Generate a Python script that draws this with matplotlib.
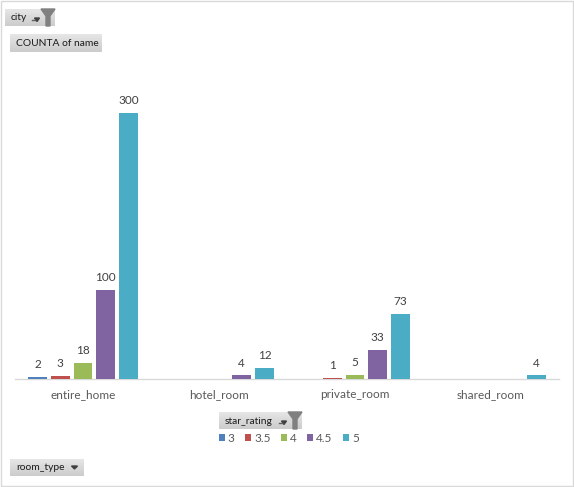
import numpy as np
import matplotlib
matplotlib.use('Agg')
import matplotlib.pyplot as plt
from matplotlib.patches import Rectangle, Polygon

plt.rcParams['font.family'] = ['Lato', 'DejaVu Sans']

room_types = ['entire_home', 'hotel_room', 'private_room', 'shared_room']
ratings = ['3', '3.5', '4', '4.5', '5']
r3 = [2, np.nan, np.nan, np.nan]
r35 = [3, np.nan, 1, np.nan]
r4 = [18, np.nan, 5, np.nan]
r45 = [100, 4, 33, np.nan]
r5 = [300, 12, 73, 4]
series = [r3, r35, r4, r45, r5]
colors = ['#4F81BD', '#C0504D', '#9BBB59', '#8064A2', '#4BACC6']

W, H = 574, 487
fig = plt.figure(figsize=(W / 100, H / 100), dpi=100)


def px(x0, y0, x1, y1):
    return [x0 / W, 1 - y1 / H, (x1 - x0) / W, (y1 - y0) / H]


ax = fig.add_axes(px(15, 68.5, 559, 379))
x = np.arange(len(room_types))
slot = 0.167
bw = 0.136
for i, (name, vals) in enumerate(zip(ratings, series)):
    pos = x + (i - 2) * slot
    bars = ax.bar(pos, vals, bw, color=colors[i], label=name, zorder=3)
    for b, v in zip(bars, vals):
        if not np.isnan(v):
            ax.annotate(f'{int(v)}', (b.get_x() + b.get_width() / 2, v),
                        xytext=(0, 5), textcoords='offset points',
                        ha='center', va='bottom', fontsize=8.5, color='#404040')

ax.set_xlim(-0.5, 3.5)
ax.set_ylim(0, 350)
ax.set_xticks(x)
ax.set_xticklabels(room_types, fontsize=8.5, color='#595959')
ax.tick_params(axis='x', length=0, pad=7)
ax.set_yticks([])
for s in ['top', 'left', 'right']:
    ax.spines[s].set_visible(False)
ax.spines['bottom'].set_color('#D9D9D9')
ax.spines['bottom'].set_linewidth(1)

leg = fig.legend(loc='center', bbox_to_anchor=(289 / W, 1 - 438 / H), ncol=5,
                 frameon=False, fontsize=8.5, handlelength=0.5, handleheight=0.5,
                 handletextpad=0.25, columnspacing=0.9, borderpad=0)
for t in leg.get_texts():
    t.set_color('#595959')

# overlay for pivot buttons and chart border
ov = fig.add_axes([0, 0, 1, 1], zorder=10)
ov.set_axis_off()
ov.patch.set_alpha(0)

grad = np.linspace(0.90, 0.80, 20).reshape(-1, 1)


def button(x0, y0, x1, y1, text, kind='arrow'):
    ov.imshow(grad, cmap='gray', vmin=0, vmax=1, extent=(x0, x1, y1, y0),
              aspect='auto', interpolation='bilinear', zorder=1)
    ov.text(x0 + 6, (y0 + y1) / 2 + 0.5, text, fontsize=7.4, color='#1A1A1A',
            ha='left', va='center', zorder=3)
    if kind == 'funnel':
        fx = x1 - 7
        ov.add_patch(Polygon([(fx - 7, y0), (fx + 7, y0), (fx + 2, y0 + 7),
                              (fx + 2, y1), (fx - 2, y1), (fx - 2, y0 + 7)],
                             closed=True, color='#808080', zorder=3))
        a = fx - 11
        ov.add_patch(Polygon([(a - 2.5, y0 + 9), (a + 2.5, y0 + 9), (a, y0 + 12.5)],
                             closed=True, color='#404040', zorder=4))
        ov.plot([a - 5, a - 2], [y0 + 10.5, y0 + 10.5], color='#606060', lw=1, zorder=4)
    elif kind == 'arrow':
        a = x1 - 9.5
        cy = (y0 + y1) / 2
        ov.add_patch(Polygon([(a - 3, cy - 1.5), (a + 3, cy - 1.5), (a, cy + 1.5)],
                             closed=True, color='#404040', zorder=3))


button(5, 9, 55, 26, 'city', 'funnel')
button(10, 34, 102, 52, 'COUNTA of name', 'none')
button(219, 412, 302, 429, 'star_rating', 'funnel')
button(10, 459, 84, 476, 'room_type', 'arrow')

ov.add_patch(Rectangle((0.5, 0.5), W - 2, H - 2, fill=False, edgecolor='#D9D9D9', lw=1, zorder=5))
ov.set_xlim(0, W)
ov.set_ylim(H, 0)

fig.savefig('out.png', dpi=100)
